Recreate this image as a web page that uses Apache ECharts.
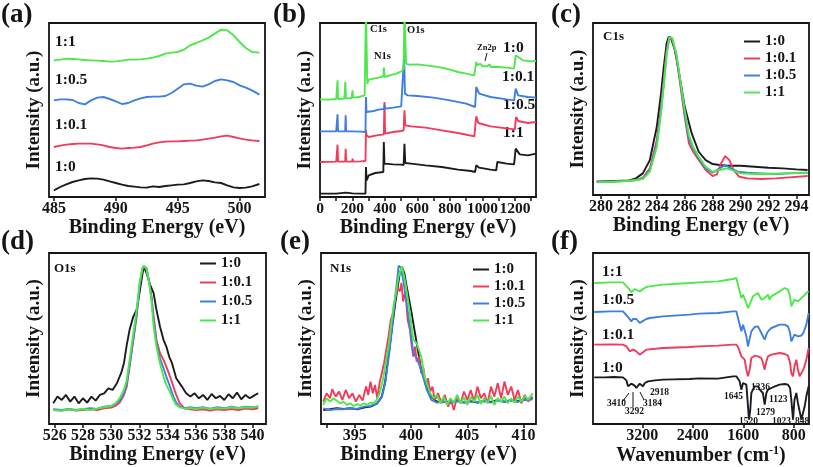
<!DOCTYPE html>
<html><head><meta charset="utf-8">
<script src="https://cdn.jsdelivr.net/npm/echarts@6/dist/echarts.min.js"></script>
<style>html,body{margin:0;padding:0;background:#fff}#c{width:813px;height:467px}</style>
</head><body><div id="c"></div>
<script>
// ---------- DATA ----------
const NAMES = ['1:0', '1:0.1', '1:0.5', '1:1'];
// (a) 485-502 eV
const aX = [485,485.5,486,486.5,487,487.5,488,488.5,489,489.5,490,490.5,491,491.5,492,492.5,493,493.5,494,494.5,495,495.5,496,496.5,497,497.5,498,498.5,499,499.5,500,500.5,501,501.6];
const aBlack = [20,30,38,45,50,54,56,55,52,47,42,37,33,31,29,28,32,30,33,35,37,38,42,47,50,48,44,42,35,29,27,28,32,39];
const aRed   = [150,154,157,159,160,160,160,158,155,150,147,145,147,148,150,155,160,164,166,167,167,168,169,170,172,175,178,182,184,180,176,172,170,168];
const aBlue  = [290,293,293,291,282,278,290,298,300,294,287,279,282,290,296,300,301,301,303,312,325,338,340,334,331,338,348,353,350,345,335,328,320,307];
const aGreen = [410,412,415,414,413,411,410,409,408,406,407,409,412,412,413,415,418,423,430,433,435,442,455,462,470,478,490,502,500,485,465,447,435,433];
// (b) survey
const bGreen = [[0,293],[50,292],[100,294],[105,293],[108,350],[111,294],[150,295],[156,345],[160,296],[195,297],[200,320],[204,298],[240,300],[275,305],[280,310],[283,560],[287,560],[291,340],[300,352],[330,355],[360,358],[390,362],[394,388],[398,360],[430,365],[470,370],[505,378],[515,385],[520,560],[526,560],[530,400],[545,397],[600,398],[650,395],[700,392],[750,388],[800,382],[850,375],[900,370],[950,365],[955,363],[962,405],[970,395],[985,400],[1000,393],[1030,392],[1045,398],[1050,390],[1100,390],[1150,388],[1195,385],[1205,425],[1215,420],[1250,410],[1300,407],[1330,408]];
const bBlue = [[0,197],[100,197],[105,197],[108,248],[111,197],[155,197],[158,245],[161,197],[200,197],[250,196],[280,195],[283,300],[286,255],[295,252],[330,258],[360,262],[395,264],[398,278],[401,265],[450,268],[500,272],[512,276],[518,425],[523,310],[540,305],[600,303],[700,298],[800,290],[900,280],[955,270],[962,330],[980,310],[1050,300],[1150,293],[1195,290],[1205,325],[1220,305],[1280,300],[1330,298]];
const bRed = [[0,105],[100,106],[105,106],[108,157],[111,106],[155,106],[158,145],[161,106],[198,106],[201,115],[204,106],[250,107],[280,108],[283,200],[287,185],[300,180],[350,185],[393,188],[397,285],[401,190],[450,195],[500,198],[515,200],[520,260],[525,215],[560,212],[650,208],[750,200],[850,192],[950,182],[955,180],[962,242],[975,222],[1050,212],[1150,206],[1200,203],[1207,240],[1220,228],[1280,222],[1330,225]];
const bBlack = [[0,10],[100,10],[108,14],[112,10],[158,13],[162,10],[200,11],[250,10],[280,10],[283,90],[287,50],[300,65],[340,72],[390,75],[393,165],[397,100],[450,98],[500,97],[515,96],[520,160],[525,102],[560,100],[650,95],[750,90],[850,82],[930,78],[955,75],[962,95],[980,88],[1050,82],[1085,80],[1092,105],[1150,100],[1195,98],[1205,145],[1230,128],[1280,125],[1330,130]];
// (c) C1s
const cBlack = [[279.7,40],[281,42],[282,44],[282.5,50],[283,65],[283.5,105],[284,205],[284.3,305],[284.5,385],[284.7,455],[284.85,475],[285,473],[285.3,435],[285.6,365],[286,265],[286.5,185],[287,130],[287.5,105],[288,93],[288.5,90],[289,88],[290,88],[291,85],[292,82],[293,80],[294,77],[294.8,75]];
const cRed = [[279.7,40],[281,41],[282,43],[282.5,45],[283,52],[283.5,80],[284,165],[284.3,265],[284.5,345],[284.7,435],[284.9,475],[285.1,467],[285.4,415],[285.7,325],[286,235],[286.3,155],[286.6,130],[287,105],[287.5,75],[288,57],[288.3,62],[288.6,95],[288.9,117],[289.2,105],[289.5,75],[289.9,55],[290.5,50],[291.5,48],[292.5,50],[293.5,53],[294.8,57]];
const cBlue = [[279.7,40],[281,41],[282,43],[282.5,45],[283,50],[283.5,73],[284,155],[284.3,255],[284.5,335],[284.7,425],[284.9,475],[285.1,470],[285.4,420],[285.7,335],[286,245],[286.3,170],[286.6,140],[287,110],[287.5,80],[288,67],[288.5,80],[288.9,90],[289.3,80],[289.8,70],[290.5,67],[291.5,65],[292.5,63],[293.5,65],[294.8,67]];
const cGreen = [[279.7,38],[281,40],[282,42],[282.5,45],[283,48],[283.5,70],[284,145],[284.3,245],[284.5,330],[284.7,420],[284.9,473],[285.1,473],[285.4,425],[285.7,340],[286,255],[286.3,180],[286.6,145],[287,115],[287.5,85],[288,70],[288.5,75],[289,80],[289.5,73],[290,65],[291,63],[292,63],[293,65],[294.8,67]];
// (d) O1s
const dBlackX = [525.9,526.2,526.5,526.8,527.1,527.4,527.7,528,528.3,528.6,528.9,529.2,529.5,529.8,530.1,530.4,530.7,530.9,531.1,531.3,531.55,531.8,532.0,532.15,532.3,532.5,532.75,533.0,533.2,533.45,533.7,533.9,534.1,534.3,534.6,535.0,535.3,535.6,535.9,536.2,536.5,536.8,537.1,537.4,537.7,538.0,538.3,538.6,538.9,539.2,539.5,539.8,540.1,540.4];
const dBlack = [62,82,72,87,67,82,62,77,64,82,70,87,92,107,102,122,152,182,237,282,320,342,392,432,472,452,417,392,342,292,252,232,202,182,137,112,92,82,92,77,87,72,90,77,84,72,89,77,94,74,87,77,85,92];
const dX = [525.9,526.5,527,527.5,528,528.5,529,529.5,530,530.3,530.6,530.9,531.1,531.4,531.6,531.8,532.0,532.2,532.3,532.5,532.7,532.85,533.0,533.2,533.45,533.7,533.9,534.2,534.4,534.6,534.85,535.2,535.6,536,536.5,537,537.5,538,538.5,539,539.5,540,540.4];
const dRed = [42,40,44,40,42,45,42,47,49,54,64,87,112,202,262,322,412,462,472,464,422,382,322,252,212,192,172,137,112,87,62,47,44,42,44,40,44,42,45,42,46,44,47];
const dBlue = [44,42,45,42,44,47,45,52,54,60,70,92,122,207,267,327,412,464,472,467,422,377,312,242,197,167,142,107,82,64,52,47,50,47,50,46,50,47,52,48,52,50,52];
const dGreen = [42,40,44,41,45,42,46,50,54,62,77,102,132,222,282,342,422,467,474,464,417,367,292,232,182,142,117,92,72,57,50,46,48,45,49,45,48,46,50,47,50,49,54];
// (e) N1s
const eBlackX = [392.2,392.8,393.4,394,394.6,395.2,395.8,396.4,397,397.4,397.7,398.1,398.6,399.0,399.2,399.4,399.6,400.05,400.5,400.9,401.4,401.8,402.3,402.9,403.5,404.1,404.7,405.3,405.9,406.5,407.1,407.7,408.3,408.9,409.5,410.1,410.8];
const eBlack = [42,44,47,45,47,44,49,52,62,82,127,232,362,452,470,452,414,332,242,162,112,82,67,67,64,70,64,68,64,70,66,72,67,72,68,74,77];
const eBlueX = [392.2,392.8,393.4,394,394.6,395.2,395.8,396.4,397,397.4,397.7,398.1,398.6,398.9,399.1,399.3,399.6,399.9,400.2,400.5,400.9,401.4,401.8,402.3,402.9,403.5,404.1,404.7,405.3,405.9,406.5,407.1,407.7,408.3,408.9,409.5,410.1,410.8];
const eBlue = [47,42,45,44,47,45,52,54,62,80,122,222,382,474,467,432,362,292,212,197,162,102,72,64,67,62,68,64,70,64,68,64,70,66,70,66,72,74];
const eGreenX = [392.2,392.5,392.8,393.1,393.4,393.7,394.0,394.3,394.6,394.9,395.2,395.5,395.8,396.1,396.4,396.7,396.9,397.2,397.5,398.0,398.4,398.9,399.2,399.5,399.9,400.2,400.5,400.9,401.2,401.7,402.0,402.3,402.6,402.9,403.2,403.5,403.8,404.1,404.4,404.7,405.0,405.3,405.6,405.9,406.2,406.5,406.8,407.1,407.4,407.7,408.0,408.3,408.6,408.9,409.2,409.5,409.8,410.1,410.4,410.8];
const eGreen = [57,77,67,77,70,62,67,57,62,54,60,55,62,57,64,62,70,92,132,232,342,442,472,422,332,252,242,202,142,92,77,87,62,82,57,77,64,87,62,80,57,82,67,87,60,77,64,84,57,77,67,82,62,77,64,82,67,84,72,92];
const eRedX = [392.2,392.5,392.8,393.0,393.3,393.6,393.9,394.2,394.5,394.8,395.1,395.4,395.7,396.0,396.2,396.4,396.6,396.8,397.0,397.2,397.4,397.6,397.8,398.0,398.2,398.4,398.6,398.8,399.0,399.15,399.3,399.5,399.7,399.9,400.05,400.2,400.35,400.5,400.7,400.9,401.1,401.3,401.5,401.7,401.9,402.1,402.4,402.7,403.0,403.3,403.5,403.8,404.1,404.4,404.7,405.0,405.3,405.6,405.9,406.2,406.5,406.8,407.1,407.4,407.7,408.0,408.3,408.6,408.9,409.2,409.5,409.8,410.1,410.4,410.8];
const eRed = [67,92,77,104,82,97,72,102,77,92,67,87,70,112,87,127,92,117,77,122,152,182,222,262,312,332,377,407,397,422,367,397,312,282,237,202,232,187,202,152,167,117,137,97,112,72,92,62,87,52,77,42,82,62,97,72,102,67,112,77,92,62,112,82,122,77,127,87,112,72,102,62,87,67,82];
// (f) FTIR
const fBlack = [[3960,140],[3800,140],[3650,141],[3505,140],[3452,131],[3426,113],[3400,108],[3373,121],[3347,125],[3320,115],[3294,108],[3270,113],[3241,121],[3225,118],[3188,113],[3160,123],[3109,128],[3000,131],[2872,133],[2700,134],[2450,135],[2300,137],[2000,136],[1763,143],[1711,143],[1684,138],[1658,128],[1631,103],[1605,123],[1579,128],[1552,118],[1526,53],[1510,13],[1490,43],[1473,93],[1447,103],[1420,113],[1394,108],[1368,113],[1340,103],[1315,103],[1290,93],[1262,58],[1235,93],[1209,103],[1183,105],[1156,108],[1130,103],[1100,113],[1025,118],[945,120],[893,118],[860,108],[840,73],[813,13],[790,73],[761,93],[735,63],[708,38],[682,13],[655,18],[628,53],[602,83],[565,113]];
const fRed = [[3960,238],[3700,239],[3505,238],[3452,233],[3400,218],[3373,215],[3347,223],[3294,218],[3241,208],[3225,211],[3188,215],[3136,223],[2872,228],[2450,231],[2300,233],[2000,235],[1763,238],[1711,238],[1684,231],[1631,203],[1605,208],[1579,193],[1552,163],[1526,143],[1500,163],[1473,198],[1447,203],[1420,205],[1368,203],[1315,198],[1288,183],[1262,163],[1235,188],[1209,203],[1156,208],[1025,213],[945,210],[893,205],[860,183],[840,153],[813,143],[790,173],[761,193],[735,163],[708,143],[682,145],[650,163],[602,193],[565,228]];
const fBlue = [[3960,336],[3700,338],[3505,338],[3479,333],[3426,321],[3373,308],[3347,315],[3320,318],[3294,315],[3241,303],[3200,308],[3136,315],[3083,318],[2872,323],[2450,328],[2300,331],[2000,333],[1763,338],[1711,338],[1684,333],[1631,278],[1605,298],[1579,293],[1552,263],[1526,233],[1510,238],[1473,278],[1447,283],[1420,291],[1368,293],[1315,273],[1262,253],[1235,268],[1209,278],[1156,288],[1025,298],[945,298],[893,293],[860,273],[840,248],[813,243],[790,268],[761,273],[735,263],[708,258],[682,265],[650,273],[602,298],[565,333]];
const fGreen = [[3960,423],[3700,425],[3505,425],[3479,421],[3400,403],[3373,395],[3347,401],[3320,405],[3294,408],[3241,398],[3200,403],[3136,411],[3083,413],[2872,418],[2450,423],[2300,425],[2000,428],[1763,435],[1711,438],[1684,433],[1631,378],[1605,388],[1579,393],[1552,363],[1526,348],[1500,358],[1447,383],[1368,393],[1315,373],[1262,378],[1209,388],[1183,373],[1156,383],[1025,398],[945,408],[893,403],[860,383],[840,353],[813,348],[790,373],[761,378],[735,368],[708,368],[650,383],[602,393],[565,398]];
// tick labels
const aTicks = [485, 490, 495, 500];
const bTicks = [0, 200, 400, 600, 800, 1000, 1200];
const bMinor = [0,100,200,300,400,500,600,700,800,900,1000,1100,1200,1300];
const cTicks = [280, 282, 284, 286, 288, 290, 292, 294];
const dTicks = [526, 528, 530, 532, 534, 536, 538, 540];
const eTicks = [395, 400, 405, 410];
const eMinor = [392.5, 395, 397.5, 400, 402.5, 405, 407.5, 410];
const fTicks = [3200, 2400, 1600, 800];

// ---------- STYLE ----------
const SERIF = "'Liberation Serif','DejaVu Serif',serif";
const INK = '#151515';
const COLORS = {'1:0': '#1b1b22', '1:0.1': '#f43a5a', '1:0.5': '#3f7fe0', '1:1': '#4de84a'};
const zip = (xs, ys) => xs.map((x, i) => [x, ys[i]]);

const grids = [
  {left: 49, top: 23, width: 216, height: 174},
  {left: 320, top: 23, width: 216, height: 174},
  {left: 593, top: 23, width: 216, height: 172},
  {left: 49, top: 253, width: 217, height: 171},
  {left: 321, top: 253, width: 215, height: 171},
  {left: 593, top: 253, width: 216, height: 171}
].map(g => Object.assign(g, {show: true, borderColor: INK, borderWidth: 1.8, backgroundColor: 'transparent', containLabel: false, outerBoundsMode: 'none'}));

function xAx(i, min, max, labels, ticks, name, extra, fs) {
  return Object.assign({
    type: 'value', gridIndex: i, min, max,
    name, nameLocation: 'middle', nameGap: 19,
    nameTextStyle: {fontFamily: SERIF, fontWeight: 'bold', fontSize: 20, color: INK},
    axisLine: {show: false},
    axisTick: {show: true, customValues: ticks, length: 4, lineStyle: {color: INK, width: 1.5}},
    axisLabel: {customValues: labels, fontFamily: SERIF, fontWeight: 'bold', fontSize: fs || 16, color: INK, margin: 4, hideOverlap: false, showMinLabel: true, showMaxLabel: true, formatter: v => String(v)},
    splitLine: {show: false}
  }, extra || {});
}
function yAx(i, max) {
  return {
    type: 'value', gridIndex: i, min: 0, max,
    name: 'Intensity (a.u.)', nameLocation: 'middle', nameGap: 5,
    nameTextStyle: {fontFamily: SERIF, fontWeight: 'bold', fontSize: 19, color: INK},
    axisLine: {show: false}, axisTick: {show: false}, axisLabel: {show: false}, splitLine: {show: false}
  };
}

const xAxis = [
  xAx(0, 484.6, 502.05, aTicks, aTicks, 'Binding Energy (eV)'),
  xAx(1, 0, 1330, bTicks, bMinor, 'Binding Energy (eV)', null, 15.5),
  xAx(2, 279.43, 294.9, cTicks, cTicks, 'Binding Energy (eV)'),
  xAx(3, 525.6, 540.95, dTicks, dTicks, 'Binding Energy (eV)'),
  xAx(4, 392.0, 411.1, eTicks, eMinor, 'Binding Energy (eV)'),
  xAx(5, 560, 3980, fTicks, fTicks, 'Wavenumber (cm{sup|-1})', {inverse: true})
];
xAxis[5].nameTextStyle.rich = {sup: {fontFamily: SERIF, fontWeight: 'bold', fontSize: 12, color: INK, verticalAlign: 'top', padding: [0, 0, 9, 0]}};
const yAxis = [yAx(0, 522), yAx(1, 522), yAx(2, 517), yAx(3, 512), yAx(4, 512), yAx(5, 513)];

const series = [];
function add(i, name, data) {
  series.push({type: 'line', name, xAxisIndex: i, yAxisIndex: i, data, showSymbol: false, symbol: 'none',
    lineStyle: {width: 1.9, color: COLORS[name]}, itemStyle: {color: COLORS[name]}, color: COLORS[name],
    animation: false, silent: true, clip: true});
}
add(0, '1:0', zip(aX, aBlack)); add(0, '1:0.1', zip(aX, aRed)); add(0, '1:0.5', zip(aX, aBlue)); add(0, '1:1', zip(aX, aGreen));
add(1, '1:0', bBlack); add(1, '1:0.1', bRed); add(1, '1:0.5', bBlue); add(1, '1:1', bGreen);
add(2, '1:0', cBlack); add(2, '1:0.1', cRed); add(2, '1:0.5', cBlue); add(2, '1:1', cGreen);
add(3, '1:0', zip(dBlackX, dBlack)); add(3, '1:0.1', zip(dX, dRed)); add(3, '1:0.5', zip(dX, dBlue)); add(3, '1:1', zip(dX, dGreen));
add(4, '1:0', zip(eBlackX, eBlack)); add(4, '1:0.1', zip(eRedX, eRed)); add(4, '1:0.5', zip(eBlueX, eBlue)); add(4, '1:1', zip(eGreenX, eGreen));
add(5, '1:0', fBlack); add(5, '1:0.1', fRed); add(5, '1:0.5', fBlue); add(5, '1:1', fGreen);

function lg(left, top, gap) {
  return {data: NAMES, left, top, orient: 'vertical', icon: 'rect', itemWidth: 16, itemHeight: 2, itemGap: gap,
    padding: 0, selectedMode: false,
    textStyle: {fontFamily: SERIF, fontWeight: 'bold', fontSize: 15, color: INK}};
}
const legend = [lg(744, 34, 2), lg(200, 256, 4), lg(473, 262, 2)];

function T(text, x, y, size, align) {
  return {type: 'text', x, y, silent: true, style: {text, font: `bold ${size}px ${SERIF}`, fill: INK, align: align || 'left', verticalAlign: 'middle'}};
}
function L(x1, y1, x2, y2) {
  return {type: 'line', silent: true, shape: {x1, y1, x2, y2}, style: {stroke: INK, lineWidth: 1}};
}
const graphic = [
  T('(a)', 1, 15, 27), T('(b)', 273, 15, 27), T('(c)', 551, 15, 27),
  T('(d)', 1, 242, 27), T('(e)', 280, 242, 27), T('(f)', 551, 242, 27),
  T('1:1', 55, 42, 15.5), T('1:0.5', 55, 80, 15.5), T('1:0.1', 55, 125, 15.5), T('1:0', 55, 167, 15.5),
  T('C1s', 370, 29, 10.5), T('O1s', 407, 30, 10.5), T('N1s', 374, 56, 10.5), T('Zn2p', 477, 48, 8.5), L(487, 53, 485, 61),
  T('1:0', 503, 48, 15.5), T('1:0.1', 502, 77, 15.5), T('1:0.5', 503, 105, 15.5), T('1:1', 503, 133, 15.5),
  T('C1s', 603, 37, 13), T('O1s', 54, 269, 13), T('N1s', 330, 269, 13),
  T('1:1', 602, 272, 15.5), T('1:0.5', 602, 300, 15.5), T('1:0.1', 602, 335, 15.5), T('1:0', 602, 368, 15.5),
  T('3410', 607, 404, 9.5), T('3292', 625, 412, 9.5), T('3184', 643, 404, 9.5), T('2918', 650, 393, 9.5),
  L(623, 401, 629, 393), L(633, 407, 633, 392), L(644, 400, 640, 392),
  T('1645', 724, 397, 9.5), T('1520', 739, 422, 9.5), T('1336', 751, 388, 9.5), T('1279', 756, 413, 9.5),
  T('1123', 769, 400, 9.5), T('1023', 772, 422, 9.5), T('848', 795, 422, 9.5)
];

const chart = echarts.init(document.getElementById('c'), null, {renderer: 'canvas'});
chart.setOption({animation: false, backgroundColor: '#fff', grid: grids, xAxis, yAxis, series, legend, graphic});
</script></body></html>
